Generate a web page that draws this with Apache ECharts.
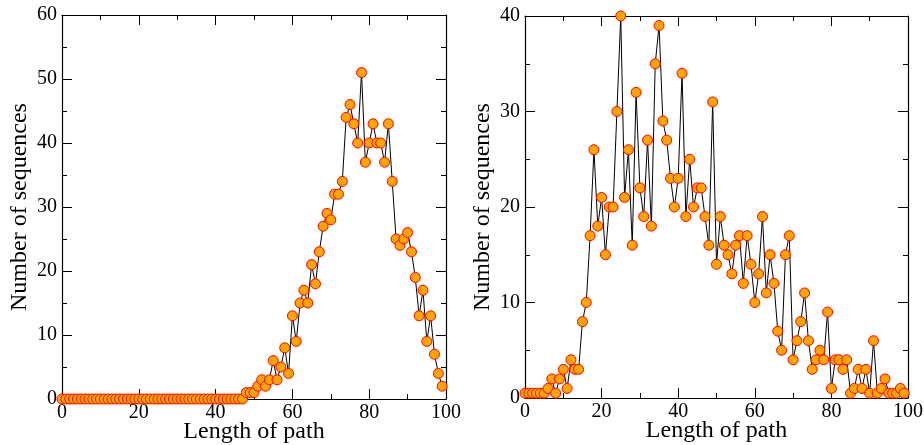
<!DOCTYPE html>
<html>
<head>
<meta charset="utf-8">
<script src="https://cdn.jsdelivr.net/npm/echarts@6/dist/echarts.min.js"></script>
<style>
  html, body { margin: 0; padding: 0; background: #fff; }
  #chart { width: 924px; height: 445px; }
</style>
</head>
<body>
<div id="chart"></div>
<script>
// path lengths on the x axis
var pathLength = [0,1,2,3,4,5,6,7,8,9,10,11,12,13,14,15,16,17,18,19,
  20,21,22,23,24,25,26,27,28,29,30,31,32,33,34,35,36,37,38,39,
  40,41,42,43,44,45,46,47,48,49,50,51,52,53,54,55,56,57,58,59,
  60,61,62,63,64,65,66,67,68,69,70,71,72,73,74,75,76,77,78,79,
  80,81,82,83,84,85,86,87,88,89,90,91,92,93,94,95,96,97,98,99];

// left panel
var leftCounts = [0,0,0,0,0,0,0,0,0,0,0,0,0,0,0,0,0,0,0,0,
  0,0,0,0,0,0,0,0,0,0,0,0,0,0,0,0,0,0,0,0,
  0,0,0,0,0,0,0,0,1,1,1,2,3,2,3,6,3,5,8,4,
  13,9,15,17,15,21,18,23,27,29,28,32,32,34,44,46,43,40,51,37,
  40,43,40,40,37,43,34,25,24,25,26,23,19,13,17,9,13,7,4,2];

// right panel
var rightCounts = [0.5,0.5,0.5,0.5,0.5,0.5,1,2,0.5,2,3,1,4,3,3,8,10,17,26,18,
  21,15,20,20,30,40,21,26,16,32,22,19,27,18,35,39,29,27,23,20,
  23,34,19,25,20,22,22,19,16,31,14,19,16,15,13,16,17,12,17,14,
  10,13,19,11,15,12,7,5,15,17,4,6,8,11,6,3,4,5,4,9,
  1,4,4,3,4,0.5,1,3,1,3,0.5,6,0.5,1,2,0.5,0.5,0.5,1,0.5];

var chart = echarts.init(document.getElementById('chart'));

var font = 'Liberation Serif';

function pairs(ys) {
  return pathLength.map(function (x, i) { return [x, ys[i]]; });
}

function axis(grid, pos, max, interval, name, showLabel) {
  var horiz = pos === 'bottom' || pos === 'top';
  return {
    type: 'value',
    gridIndex: grid,
    position: pos,
    min: 0,
    max: max,
    interval: interval,
    name: showLabel ? name : '',
    nameLocation: 'middle',
    nameGap: horiz ? 21 : 30,
    nameMoveOverlap: false,
    nameTextStyle: { fontFamily: font, fontSize: 24, color: '#000' },
    axisLine: { show: true, onZero: false, lineStyle: { color: '#000', width: 1.2 } },
    axisTick: { show: true, inside: true, length: 10, lineStyle: { color: '#000', width: 1 } },
    minorTick: { show: true, splitNumber: 2, length: 5, lineStyle: { color: '#000', width: 1 } },
    splitLine: { show: false },
    axisLabel: {
      show: showLabel,
      fontFamily: font,
      fontSize: 20,
      color: '#000',
      margin: horiz ? 4 : 5
    }
  };
}

function series(xi, yi, ys) {
  return {
    type: 'line',
    xAxisIndex: xi,
    yAxisIndex: yi,
    data: pairs(ys),
    symbol: 'circle',
    symbolSize: 10,
    showAllSymbol: true,
    lineStyle: { color: '#000', width: 1 },
    itemStyle: { color: '#FFA500', borderColor: '#FF0000', borderWidth: 1 },
    emphasis: { disabled: true },
    animation: false
  };
}

chart.setOption({
  animation: false,
  grid: [
    { left: 62, top: 15, width: 384, height: 384, containLabel: false, outerBoundsMode: 'none' },
    { left: 525, top: 16, width: 383, height: 382, containLabel: false, outerBoundsMode: 'none' }
  ],
  xAxis: [
    axis(0, 'bottom', 100, 20, 'Length of path', true),
    axis(0, 'top', 100, 20, '', false),
    axis(1, 'bottom', 100, 20, 'Length of path', true),
    axis(1, 'top', 100, 20, '', false)
  ],
  yAxis: [
    axis(0, 'left', 60, 10, 'Number of sequences', true),
    axis(0, 'right', 60, 10, '', false),
    axis(1, 'left', 40, 10, 'Number of sequences', true),
    axis(1, 'right', 40, 10, '', false)
  ],
  series: [
    series(0, 0, leftCounts),
    series(2, 2, rightCounts)
  ]
});
</script>
</body>
</html>
